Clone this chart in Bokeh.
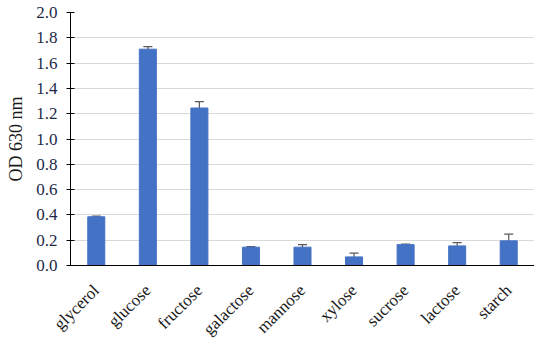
from math import pi
from bokeh.plotting import figure
from bokeh.models import ColumnDataSource, FactorRange, Whisker, FixedTicker, NumeralTickFormatter, TeeHead, Range1d
from bokeh.embed import file_html
from bokeh.resources import INLINE

categories = ["glycerol", "glucose", "fructose", "galactose", "mannose", "xylose", "sucrose", "lactose", "starch"]
values = [0.385, 1.71, 1.245, 0.145, 0.145, 0.068, 0.165, 0.155, 0.195]
errors = [0.005, 0.02, 0.05, 0.005, 0.02, 0.03, 0.005, 0.026, 0.053]
y_ticks = [0.0, 0.2, 0.4, 0.6, 0.8, 1.0, 1.2, 1.4, 1.6, 1.8, 2.0]

upper = [v + e for v, e in zip(values, errors)]
lower = [v - e for v, e in zip(values, errors)]
src = ColumnDataSource(dict(cat=categories, val=values, upper=upper, lower=lower))

FONT = "Liberation Serif"

p = figure(x_range=FactorRange(*categories, range_padding=0), y_range=Range1d(0, 2.0),
           width=534, height=348, output_backend="svg", toolbar_location=None,
           min_border_left=70, min_border_right=0, min_border_top=12, min_border_bottom=60)
p.outline_line_color = None

p.vbar(x="cat", top="val", width=0.33, source=src, fill_color="#4472C4", line_color="#4472C4")
w = Whisker(base="cat", upper="upper", lower="lower", source=src, line_color="#595959", line_width=1.2,
            upper_head=TeeHead(size=9, line_color="#595959", line_width=1.2),
            lower_head=TeeHead(size=9, line_color="#595959", line_width=1.2))
p.add_layout(w)

p.xgrid.grid_line_color = None
p.ygrid.grid_line_color = "#d9d9d9"
p.ygrid.grid_line_width = 1.2

p.yaxis.ticker = FixedTicker(ticks=y_ticks)
p.yaxis.formatter = NumeralTickFormatter(format="0.0")
p.yaxis.axis_line_color = "black"
p.yaxis.major_tick_line_color = "black"
p.yaxis.major_tick_in = 4
p.yaxis.major_tick_out = 4
p.yaxis.minor_tick_line_color = None
p.yaxis.axis_label = "OD 630 nm"
p.yaxis.axis_label_text_font = FONT
p.yaxis.axis_label_text_font_style = "normal"
p.yaxis.axis_label_text_font_size = "18px"
p.yaxis.axis_label_text_color = "#1a1a1a"
p.yaxis.axis_label_standoff = 7
p.yaxis.major_label_text_font = FONT
p.yaxis.major_label_text_font_size = "17px"
p.yaxis.major_label_text_color = "#1c2a48"
p.yaxis.major_label_standoff = 9

p.xaxis.axis_line_color = "black"
p.xaxis.major_tick_line_color = None
p.xaxis.minor_tick_line_color = None
p.xaxis.major_label_orientation = pi / 4
p.xaxis.major_label_text_font = FONT
p.xaxis.major_label_text_font_size = "17px"
p.xaxis.major_label_text_color = "#1a1a1a"
p.xaxis.major_label_standoff = 16

open("out.html", "w").write(file_html(p, INLINE))
